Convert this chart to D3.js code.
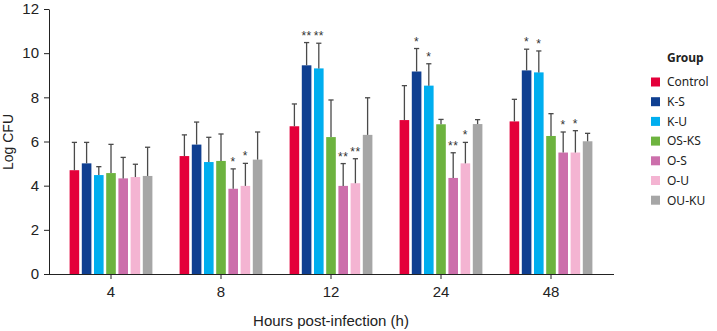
<!DOCTYPE html>
<html><head><meta charset="utf-8">
<script src="https://cdn.jsdelivr.net/npm/d3@7"></script>
<style>body{margin:0;background:#fff}svg{display:block}</style>
</head><body>
<svg id="c" width="717" height="331"></svg>
<script>
const hours = ["4","8","12","24","48"];
const groups = ["Control","K-S","K-U","OS-KS","O-S","O-U","OU-KU"];
const colors = ["#E4003A","#0F3F91","#00AEEF","#6DB33F","#CC6FAB","#F4B4D2","#A6A6A6"];
const yTicks = [0,2,4,6,8,10,12];
// means per group (rows = groups, cols = hours)
const control = [4.70, 5.34, 6.69, 6.97, 6.91];
const ks      = [5.01, 5.86, 9.45, 9.17, 9.22];
const ku      = [4.48, 5.07, 9.31, 8.53, 9.13];
const osks    = [4.57, 5.12, 6.20, 6.78, 6.25];
const os      = [4.33, 3.86, 3.99, 4.35, 5.50];
const ou      = [4.39, 3.99, 4.11, 5.01, 5.50];
const ouku    = [4.44, 5.18, 6.30, 6.79, 6.01];
// upper error bar ends
const controlErr = [5.96, 6.30, 7.70, 8.53, 7.91];
const ksErr      = [5.96, 6.88, 10.48, 10.21, 10.18];
const kuErr      = [4.86, 6.19, 10.45, 9.52, 10.10];
const osksErr    = [5.87, 6.34, 7.88, 7.00, 7.26];
const osErr      = [5.28, 4.76, 5.00, 5.49, 6.43];
const ouErr      = [4.97, 5.01, 5.22, 5.96, 6.49];
const oukuErr    = [5.74, 6.43, 7.98, 6.99, 6.37];
// significance marks
const controlSig = ["","","","",""];
const ksSig      = ["","","**","*","*"];
const kuSig      = ["","","**","*","*"];
const osksSig    = ["","","","",""];
const osSig      = ["","*","**","**","*"];
const ouSig      = ["","*","**","*","*"];
const oukuSig    = ["","","","",""];

const means = [control, ks, ku, osks, os, ou, ouku];
const errs = [controlErr, ksErr, kuErr, osksErr, osErr, ouErr, oukuErr];
const sigs = [controlSig, ksSig, kuSig, osksSig, osSig, ouSig, oukuSig];

const svg = d3.select("#c");
const x0 = d3.scaleBand().domain(hours).range([56, 606]).padding(0);
const x1 = d3.scaleBand().domain(groups).range([13.6, 96.4]).paddingInner(0.213);
const y = d3.scaleLinear().domain([0, 12]).range([274, 9]);

const data = [];
hours.forEach((h, hi) => groups.forEach((g, gi) => {
  data.push({h, g, gi, v: means[gi][hi], e: errs[gi][hi], s: sigs[gi][hi]});
}));

// bars
svg.append("g").selectAll("rect").data(data).join("rect")
  .attr("x", d => x0(d.h) + x1(d.g))
  .attr("y", d => y(d.v))
  .attr("width", x1.bandwidth())
  .attr("height", d => y(0) - y(d.v))
  .attr("fill", d => colors[d.gi]);

// error bars
const eg = svg.append("g").attr("stroke", "#4a4a4a").attr("stroke-width", 1.3);
data.forEach(d => {
  const cx = x0(d.h) + x1(d.g) + x1.bandwidth() / 2;
  eg.append("line").attr("x1", cx).attr("x2", cx).attr("y1", y(d.v)).attr("y2", y(d.e));
  eg.append("line").attr("x1", cx - 2.6).attr("x2", cx + 2.6).attr("y1", y(d.e)).attr("y2", y(d.e));
});

// significance stars
svg.append("g").selectAll("text").data(data.filter(d => d.s)).join("text")
  .attr("x", d => x0(d.h) + x1(d.g) + x1.bandwidth() / 2)
  .attr("y", d => y(d.e) - 3)
  .attr("text-anchor", "middle")
  .attr("font-family", "Liberation Sans, Arial, sans-serif")
  .attr("font-size", 12)
  .attr("letter-spacing", 0.5)
  .attr("fill", "#333")
  .text(d => d.s);

// y axis
const ya = svg.append("g").attr("transform", "translate(49,0)")
  .call(d3.axisLeft(y).tickValues(yTicks).tickSize(5).tickPadding(5).tickSizeOuter(0));
ya.select(".domain").attr("stroke", "#222");
ya.selectAll(".tick line").attr("stroke", "#222");
ya.selectAll("text").attr("font-family", "Liberation Sans, Arial, sans-serif").attr("font-size", 15).attr("fill", "#222");

// x axis
const xa = svg.append("g").attr("transform", "translate(0,274)")
  .call(d3.axisBottom(x0).tickSize(5).tickPadding(7).tickSizeOuter(0));
xa.select(".domain").attr("d", "M49,0.5H614").attr("stroke", "#222");
xa.selectAll(".tick line").attr("stroke", "#222");
xa.selectAll("text").attr("font-family", "Liberation Sans, Arial, sans-serif").attr("font-size", 15).attr("fill", "#222");

// axis titles
svg.append("text").attr("x", 331).attr("y", 326).attr("text-anchor", "middle")
  .attr("font-family", "Liberation Sans, Arial, sans-serif").attr("font-size", 15).attr("fill", "#222")
  .text("Hours post-infection (h)");
svg.append("text").attr("transform", "translate(13,142) rotate(-90)").attr("text-anchor", "middle")
  .attr("font-family", "Liberation Sans, Arial, sans-serif").attr("font-size", 14).attr("fill", "#222")
  .text("Log CFU");

// legend
const lg = svg.append("g").attr("font-family", "Noto Sans, sans-serif").attr("font-size", 12).attr("fill", "#222");
lg.append("text").attr("x", 667).attr("y", 62).attr("font-weight", "bold").text("Group");
groups.forEach((g, i) => {
  const cy = 82 + i * 19.7;
  lg.append("rect").attr("x", 651).attr("y", cy - 4.5).attr("width", 9).attr("height", 9).attr("fill", colors[i]);
  lg.append("text").attr("x", 667).attr("y", cy + 4.3).text(g);
});
</script>
</body></html>
